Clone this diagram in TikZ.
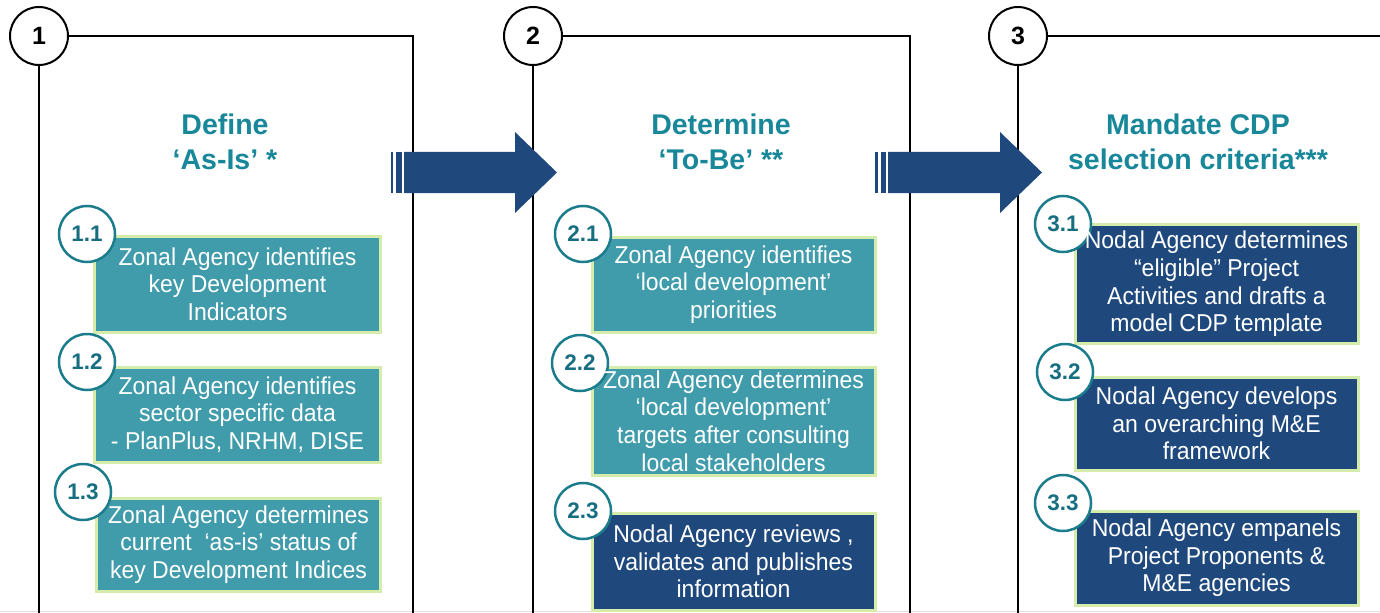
\documentclass[tikz,border=0pt]{standalone}
\usepackage{fontspec}
\setmainfont{Liberation Sans}
\definecolor{titleteal}{RGB}{23,135,153}
\definecolor{boxteal}{RGB}{64,155,170}
\definecolor{navy}{RGB}{31,73,125}
\definecolor{cirteal}{RGB}{27,124,140}
\definecolor{numteal}{RGB}{22,110,128}
\definecolor{glow}{RGB}{214,236,170}
\tikzset{
  frame/.style={draw=black,line width=2bp},
  bignum/.style={circle,draw=black,line width=2bp,fill=white,minimum size=58bp,inner sep=0pt,
    font=\bfseries\fontsize{25bp}{28bp}\selectfont},
  subnum/.style={circle,draw=cirteal,line width=2.5bp,fill=white,minimum size=56bp,inner sep=0pt,
    text=numteal,font=\bfseries\fontsize{22.5bp}{25bp}\selectfont},
  stepbox/.style={rectangle,draw=glow,line width=3bp,inner sep=0pt,text=white,align=center,
    font=\fontsize{23bp}{27.5bp}\selectfont},
  tealbox/.style={stepbox,fill=boxteal},
  navybox/.style={stepbox,fill=navy},
  title/.style={text=titleteal,align=center,font=\bfseries\fontsize{28.5bp}{35bp}\selectfont},
  bigarrow/.style={fill=navy,draw=none},
  boxtext/.style={text=white,align=center,inner sep=0pt,yscale=1.06,font=\fontsize{23bp}{26bp}\selectfont}
}
\begin{document}
\begin{tikzpicture}[x=1bp,y=-1bp]
\useasboundingbox (0,0) rectangle (1380,613);
\fill[white] (0,0) rectangle (1380,613);
\draw[black!12,line width=1.5bp] (0,611.5) -- (1380,611.5);

% big number circles and frames
\node[bignum] (c1) at (39,36) {1};
\node[bignum] (c2) at (533,36) {2};
\node[bignum] (c3) at (1018,36) {3};
\coordinate (p1tr) at (413,36);
\coordinate (p1br) at (413,613);
\coordinate (p1bl) at (39,613);
\coordinate (p2tr) at (910,36);
\coordinate (p2br) at (910,613);
\coordinate (p2bl) at (533,613);
\coordinate (p3tr) at (1381,36);
\coordinate (p3bl) at (1018,613);
\draw[frame] (c1.east) -- (p1tr) -- (p1br);
\draw[frame] (c1.south) -- (p1bl);
\draw[frame] (c2.east) -- (p2tr) -- (p2br);
\draw[frame] (c2.south) -- (p2bl);
\draw[frame] (c3.east) -- (p3tr);
\draw[frame] (c3.south) -- (p3bl);

% titles
\node[title] (t1) at (225,142) {Define\\‘As-Is’ *};
\node[title] (t2) at (721,142) {Determine\\‘To-Be’ **};
\node[title] (t3) at (1198,142) {Mandate CDP\\selection criteria***};

% arrows
\fill[bigarrow] (390.5,152) rectangle (393,193);
\fill[bigarrow] (396,152) rectangle (401.5,193);
\fill[bigarrow] (404,152) -- (515,152) -- (515,132) -- (557,172.5) -- (515,213) -- (515,193) -- (404,193) -- cycle;
\fill[bigarrow] (875,152) rectangle (877.5,193);
\fill[bigarrow] (880.5,152) rectangle (886,193);
\fill[bigarrow] (888,152) -- (1000,152) -- (1000,132) -- (1042,172.5) -- (1000,213) -- (1000,193) -- (888,193) -- cycle;

% boxes (panel 1)
\node[tealbox,minimum width=285bp,minimum height=96bp] (b11) at (237.5,284) {};
\node[tealbox,minimum width=285bp,minimum height=95bp] (b12) at (237.5,414.5) {};
\node[tealbox,minimum width=283bp,minimum height=93bp] (b13) at (238.5,544.5) {};
% panel 2
\node[tealbox,minimum width=283bp,minimum height=95bp] (b21) at (733.5,284.5) {};
\node[tealbox,minimum width=283bp,minimum height=108bp] (b22) at (733.5,421) {};
\node[navybox,minimum width=283bp,minimum height=97bp] (b23) at (733.5,561.5) {};
% panel 3
\node[navybox,minimum width=283bp,minimum height=118bp] (b31) at (1216.5,284) {};
\node[navybox,minimum width=283bp,minimum height=93bp] (b32) at (1216.5,423.5) {};
\node[navybox,minimum width=283bp,minimum height=94bp] (b33) at (1216.5,558) {};

% sub circles
\node[subnum] (c11) at (87,234) {1.1};
\node[subnum] (c12) at (87,362) {1.2};
\node[subnum] (c13) at (83,492) {1.3};
\node[subnum] (c21) at (583,234) {2.1};
\node[subnum] (c22) at (580,363) {2.2};
\node[subnum] (c23) at (583,511) {2.3};
\node[subnum] (c31) at (1063,224) {3.1};
\node[subnum] (c32) at (1065,372) {3.2};
\node[subnum] (c33) at (1063,503) {3.3};

% box texts
\node[boxtext] (x11) at (b11) {Zonal Agency identifies\\key Development\\Indicators};
\node[boxtext] (x12) at (b12) {Zonal Agency identifies\\sector specific data\\- PlanPlus, NRHM, DISE};
\node[boxtext] (x13) at (b13) {Zonal Agency determines\\current\ \ ‘as-is’ status of\\key Development Indices};
\node[boxtext] (x21) at (b21) {Zonal Agency identifies\\‘local development’\\priorities};
\node[boxtext] (x22) at (b22) {Zonal Agency determines\\‘local development’\\targets after consulting\\local stakeholders};
\node[boxtext] (x23) at (b23) {Nodal Agency reviews ,\\validates and publishes\\information};
\node[boxtext] (x31) at (b31) {Nodal Agency determines\\“eligible” Project\\Activities and drafts a\\model CDP template};
\node[boxtext] (x32) at (b32) {Nodal Agency develops\\an overarching M\&E\\framework};
\node[boxtext] (x33) at (b33) {Nodal Agency empanels\\Project Proponents \&\\M\&E agencies};
\end{tikzpicture}
\end{document}
